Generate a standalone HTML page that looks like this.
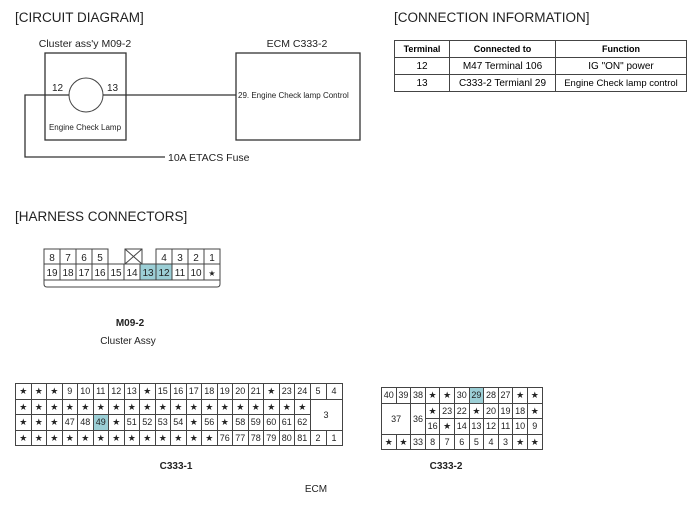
<!DOCTYPE html>
<html><head><meta charset="utf-8"><style>
body{margin:0;width:700px;height:505px;background:#fff;overflow:hidden;font-family:"Liberation Sans",sans-serif;}
svg{position:absolute;left:0;top:0}
table{position:absolute;border-collapse:collapse;table-layout:fixed;font-family:"Liberation Sans",sans-serif;}
td{border:1px solid #444;padding:0;text-align:center;overflow:hidden;white-space:nowrap;}
.g td{font-size:9px;height:14.5px;line-height:10px;color:#222}
.h{background:#9ccfd6}
.s{font-size:8px}
</style></head><body>
<svg width="700" height="505" font-family="Liberation Sans, sans-serif">
<text x="15" y="22" font-size="13.5" fill="#222">[CIRCUIT DIAGRAM]</text>
<text x="85" y="47" font-size="10.5" text-anchor="middle" fill="#222">Cluster ass'y M09-2</text>
<text x="297" y="47" font-size="10.5" text-anchor="middle" fill="#222">ECM C333-2</text>
<rect x="45" y="53" width="81" height="87" fill="none" stroke="#333" stroke-width="1.3"/>
<rect x="236" y="53" width="124" height="87" fill="none" stroke="#333" stroke-width="1.3"/>
<circle cx="86" cy="95" r="17" fill="none" stroke="#444" stroke-width="1"/>
<text x="52" y="91" font-size="10" fill="#222">12</text>
<text x="107" y="91" font-size="10" fill="#222">13</text>
<text x="85" y="130" font-size="8" text-anchor="middle" fill="#222">Engine Check Lamp</text>
<text x="238" y="98" font-size="8" fill="#222">29. Engine Check lamp Control</text>
<polyline points="69,95 25,95 25,157 165,157" fill="none" stroke="#333" stroke-width="1.3"/>
<line x1="103" y1="95" x2="236" y2="95" stroke="#333" stroke-width="1.3"/>
<text x="168" y="161" font-size="10.5" fill="#222">10A ETACS Fuse</text>
<text x="394" y="22" font-size="13.5" fill="#222">[CONNECTION INFORMATION]</text>
<text x="15" y="221" font-size="13.5" fill="#222">[HARNESS CONNECTORS]</text>
<!-- M09-2 -->
<g stroke="#444" stroke-width="1" fill="none">
<rect x="140" y="264" width="32" height="16" fill="#9ccfd6" stroke="none"/>
<polyline points="44,264 44,249 108,249 108,264 125,264 125,249 142,249 142,264 156,264 156,249 220,249 220,280 44,280 44,264 220,264"/>
<line x1="60" y1="249" x2="60" y2="264"/><line x1="76" y1="249" x2="76" y2="264"/><line x1="92" y1="249" x2="92" y2="264"/>
<line x1="172" y1="249" x2="172" y2="264"/><line x1="188" y1="249" x2="188" y2="264"/><line x1="204" y1="249" x2="204" y2="264"/>
<line x1="125" y1="249" x2="142" y2="264"/><line x1="142" y1="249" x2="125" y2="264"/>
<line x1="60" y1="264" x2="60" y2="280"/><line x1="76" y1="264" x2="76" y2="280"/><line x1="92" y1="264" x2="92" y2="280"/><line x1="108" y1="264" x2="108" y2="280"/><line x1="124" y1="264" x2="124" y2="280"/><line x1="140" y1="264" x2="140" y2="280"/><line x1="156" y1="264" x2="156" y2="280"/><line x1="172" y1="264" x2="172" y2="280"/><line x1="188" y1="264" x2="188" y2="280"/><line x1="204" y1="264" x2="204" y2="280"/>
<path d="M44,280 L44,284 Q44,287 47,287 L217,287 Q220,287 220,284 L220,280"/>
</g>
<g font-size="10" fill="#222" text-anchor="middle">
<text x="52" y="261">8</text><text x="68" y="261">7</text><text x="84" y="261">6</text><text x="100" y="261">5</text>
<text x="164" y="261">4</text><text x="180" y="261">3</text><text x="196" y="261">2</text><text x="212" y="261">1</text>
<text x="52" y="276">19</text><text x="68" y="276">18</text><text x="84" y="276">17</text><text x="100" y="276">16</text><text x="116" y="276">15</text><text x="132" y="276">14</text><text x="148" y="276">13</text><text x="164" y="276">12</text><text x="180" y="276">11</text><text x="196" y="276">10</text><text x="212" y="276" font-size="8">★</text>
</g>
<text x="130" y="326" font-size="10" font-weight="bold" text-anchor="middle" fill="#222">M09-2</text>
<text x="128" y="344" font-size="10" text-anchor="middle" fill="#222">Cluster Assy</text>
<text x="176" y="469" font-size="10" font-weight="bold" text-anchor="middle" fill="#222">C333-1</text>
<text x="446" y="469" font-size="10" font-weight="bold" text-anchor="middle" fill="#222">C333-2</text>
<text x="316" y="492" font-size="10" text-anchor="middle" fill="#222">ECM</text>
</svg>

<table style="left:394px;top:40px;width:292px;font-size:10px;border:1.5px solid #333">
<col style="width:55px"><col style="width:106px"><col style="width:131px">
<tr style="height:17px"><td style="font-weight:bold;font-size:9px">Terminal</td><td style="font-weight:bold;font-size:9px">Connected to</td><td style="font-weight:bold;font-size:9px">Function</td></tr>
<tr style="height:17px"><td>12</td><td>M47 Terminal 106</td><td>IG "ON" power</td></tr>
<tr style="height:17px"><td>13</td><td>C333-2 Termianl 29</td><td style="font-size:9.5px">Engine Check lamp control</td></tr>
</table>

<table class="g" style="left:15px;top:383px;width:327px;border:1.5px solid #333">
<colgroup><col span="19" style="width:15.5px"><col style="width:16px"><col style="width:16px"></colgroup>
<tr><td class="s">★</td><td class="s">★</td><td class="s">★</td><td>9</td><td>10</td><td>11</td><td>12</td><td>13</td><td class="s">★</td><td>15</td><td>16</td><td>17</td><td>18</td><td>19</td><td>20</td><td>21</td><td class="s">★</td><td>23</td><td>24</td><td>5</td><td>4</td></tr>
<tr><td class="s">★</td><td class="s">★</td><td class="s">★</td><td class="s">★</td><td class="s">★</td><td class="s">★</td><td class="s">★</td><td class="s">★</td><td class="s">★</td><td class="s">★</td><td class="s">★</td><td class="s">★</td><td class="s">★</td><td class="s">★</td><td class="s">★</td><td class="s">★</td><td class="s">★</td><td class="s">★</td><td class="s">★</td><td colspan="2" rowspan="2">3</td></tr>
<tr><td class="s">★</td><td class="s">★</td><td class="s">★</td><td>47</td><td>48</td><td class="h">49</td><td class="s">★</td><td>51</td><td>52</td><td>53</td><td>54</td><td class="s">★</td><td>56</td><td class="s">★</td><td>58</td><td>59</td><td>60</td><td>61</td><td>62</td></tr>
<tr><td class="s">★</td><td class="s">★</td><td class="s">★</td><td class="s">★</td><td class="s">★</td><td class="s">★</td><td class="s">★</td><td class="s">★</td><td class="s">★</td><td class="s">★</td><td class="s">★</td><td class="s">★</td><td class="s">★</td><td>76</td><td>77</td><td>78</td><td>79</td><td>80</td><td>81</td><td>2</td><td>1</td></tr>
</table>

<table class="g" style="left:381px;top:387px;width:161px;border:1.5px solid #333">
<colgroup><col span="11" style="width:14.6px"></colgroup>
<tr><td>40</td><td>39</td><td>38</td><td class="s">★</td><td class="s">★</td><td>30</td><td class="h">29</td><td>28</td><td>27</td><td class="s">★</td><td class="s">★</td></tr>
<tr><td colspan="2" rowspan="2" style="width:24px">37</td><td rowspan="2">36</td><td class="s">★</td><td>23</td><td>22</td><td class="s">★</td><td>20</td><td>19</td><td>18</td><td class="s">★</td></tr>
<tr><td>16</td><td class="s">★</td><td>14</td><td>13</td><td>12</td><td>11</td><td>10</td><td>9</td></tr>
<tr><td class="s">★</td><td class="s">★</td><td>33</td><td>8</td><td>7</td><td>6</td><td>5</td><td>4</td><td>3</td><td class="s">★</td><td class="s">★</td></tr>
</table>
</body></html>
